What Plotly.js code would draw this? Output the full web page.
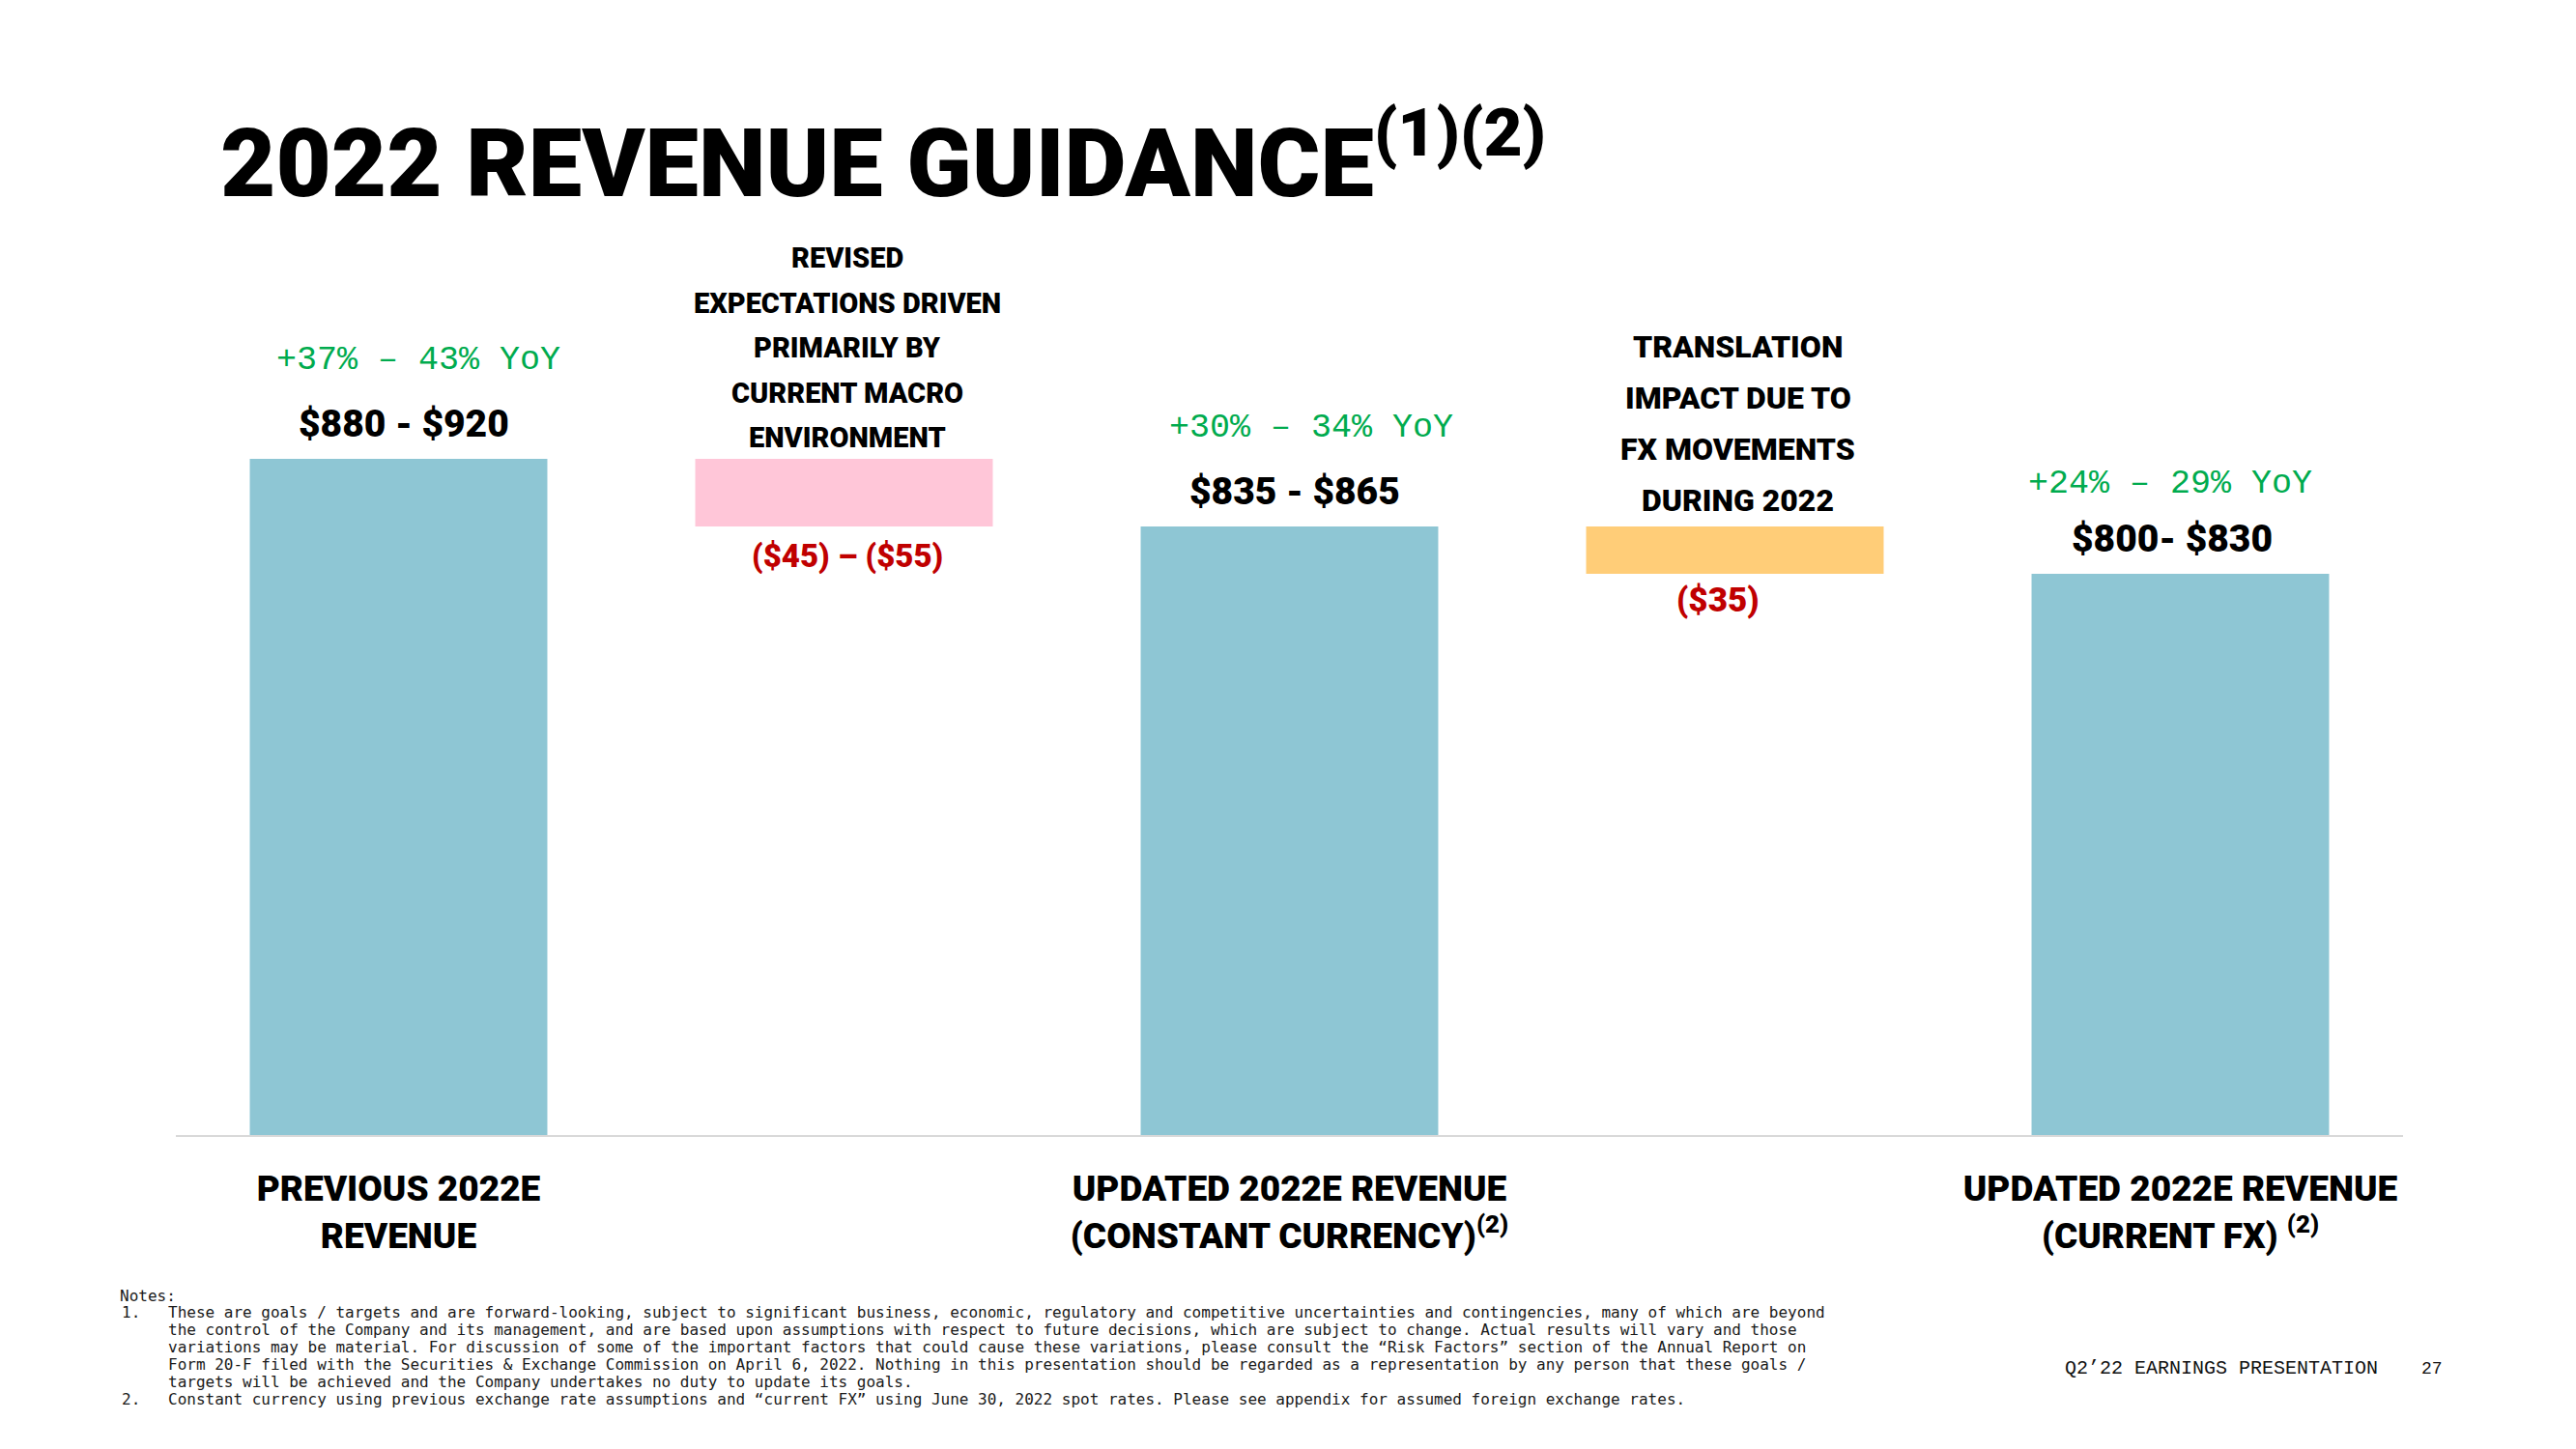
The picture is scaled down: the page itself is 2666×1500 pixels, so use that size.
<!DOCTYPE html>
<html>
<head>
<meta charset="utf-8">
<script src="https://cdn.plot.ly/plotly-3.0.1.min.js"></script>
<style>
html,body{margin:0;padding:0;background:#ffffff;}
#chart{width:2666px;height:1500px;}
</style>
</head>
<body>
<div id="chart"></div>
<script>
// ---------------- data ----------------
const categories = ['Previous 2022E', 'Macro', 'Updated CC', 'FX', 'Updated Current FX'];
const tickLabels = [
  'PREVIOUS 2022E<br>REVENUE',
  '',
  'UPDATED 2022E REVENUE<br>(CONSTANT CURRENCY)<sup>(2)</sup>',
  '',
  'UPDATED 2022E REVENUE<br>(CURRENT FX) <sup>(2)</sup>'
];
const barValues = [900, -50, 850, -35, 815];           // midpoints of guidance ranges ($M)
const barMeasures = ['total', 'relative', 'total', 'relative', 'total'];
const rangeLabels = ['$880 - $920', '($45) – ($55)', '$835 - $865', '($35)', '$800- $830'];
const yoyLabels = ['+37% – 43% YoY', '', '+30% – 34% YoY', '', '+24% – 29% YoY'];
const driverLabels = [
  '',
  'REVISED<br>EXPECTATIONS DRIVEN<br>PRIMARILY BY<br>CURRENT MACRO<br>ENVIRONMENT',
  '',
  'TRANSLATION<br>IMPACT DUE TO<br>FX MOVEMENTS<br>DURING 2022',
  ''
];
const noteLines = [
  ['', 'Notes:'],
  ['1.', 'These are goals / targets and are forward-looking, subject to significant business, economic, regulatory and competitive uncertainties and contingencies, many of which are beyond'],
  ['', 'the control of the Company and its management, and are based upon assumptions with respect to future decisions, which are subject to change. Actual results will vary and those'],
  ['', 'variations may be material. For discussion of some of the important factors that could cause these variations, please consult the “Risk Factors” section of the Annual Report on'],
  ['', 'Form 20-F filed with the Securities &amp; Exchange Commission on April 6, 2022. Nothing in this presentation should be regarded as a representation by any person that these goals /'],
  ['', 'targets will be achieved and the Company undertakes no duty to update its goals.'],
  ['2.', 'Constant currency using previous exchange rate assumptions and “current FX” using June 30, 2022 spot rates. Please see appendix for assumed foreign exchange rates.']
];
const titleText = '2022 REVENUE GUIDANCE<sup>(1)(2)</sup>';
const footerText = 'Q2’22 EARNINGS PRESENTATION';
const pageNumber = '27';

// ---------------- styles ----------------
const barColors = ['#8ec6d4', '#ffc6d8', '#8ec6d4', '#ffcd78', '#8ec6d4'];
const HEAVY = 'Roboto, DejaVu Sans, sans-serif';
const MONO = 'Liberation Mono, DejaVu Sans Mono, monospace';
const NOTEMONO = 'DejaVu Sans Mono, Liberation Mono, monospace';
const GREEN = '#00ab4e';
const RED = '#c00000';

const W = 2666, H = 1500;
const PL = 182, PR = 2487, PT = 55, PB = 1175;
const px2x = p => (p - PL) / (PR - PL);
const py2y = p => (PB - p) / (PB - PT);

// ---------------- waterfall geometry from data ----------------
const bases = [], heights = [];
let running = 0;
barValues.forEach((v, i) => {
  if (barMeasures[i] === 'total') { bases.push(0); heights.push(v); running = v; }
  else { bases.push(running); heights.push(v); running += v; }
});

const trace = {
  type: 'bar',
  x: categories,
  y: heights,
  base: bases,
  marker: { color: barColors, line: { width: 0 } },
  hoverinfo: 'skip',
  showlegend: false
};

const yoyShift = [102, 0, 102, 0, 93];
const yoyXShift = [20, 0, 22, 0, -11];
const driverStyle = { 1: { size: 29, pitch: 46.5, last: 22 }, 3: { size: 32, pitch: 53, last: 27 } };

const annotations = [];
categories.forEach((c, i) => {
  const top = barMeasures[i] === 'total' ? heights[i] : bases[i];
  const bottom = barMeasures[i] === 'total' ? 0 : bases[i] + heights[i];
  if (yoyLabels[i]) {
    annotations.push({
      x: c, y: top, xref: 'x', yref: 'y', text: yoyLabels[i], showarrow: false,
      yanchor: 'middle', yshift: yoyShift[i], xshift: yoyXShift[i],
      font: { family: MONO, size: 35, color: GREEN }
    });
  }
  if (barMeasures[i] === 'total') {
    annotations.push({
      x: c, y: top, xref: 'x', yref: 'y', text: rangeLabels[i], showarrow: false,
      yanchor: 'middle', yshift: 36, xshift: (i === 4 ? -9 : 5),
      font: { family: HEAVY, size: 39, color: '#000000', weight: 900 }
    });
  } else {
    annotations.push({
      x: c, y: bottom, xref: 'x', yref: 'y', text: rangeLabels[i], showarrow: false,
      yanchor: 'middle', yshift: (i === 3 ? -27 : -30), xshift: (i === 3 ? -18 : 3),
      font: { family: HEAVY, size: (i === 3 ? 35 : 33), color: RED, weight: 900 }
    });
  }
  if (driverLabels[i]) {
    const st = driverStyle[i];
    const lines = driverLabels[i].split('<br>');
    lines.forEach((ln, j) => {
      annotations.push({
        x: c, y: top, xref: 'x', yref: 'y', text: ln, showarrow: false,
        yanchor: 'middle', yshift: st.last + (lines.length - 1 - j) * st.pitch, xshift: 3,
        font: { family: HEAVY, size: st.size, color: '#000000', weight: 900 }
      });
    });
  }
});

// notes
const notePitch = 17.9;
noteLines.forEach((ln, k) => {
  const yc = 1341 + k * notePitch;
  if (ln[0]) {
    annotations.push({
      x: px2x(124), y: py2y(yc), xref: 'paper', yref: 'paper', xanchor: 'left', yanchor: 'middle',
      text: ln[0], showarrow: false, font: { family: NOTEMONO, size: 16, color: '#1a1a1a' }
    });
  }
  annotations.push({
    x: px2x(k === 0 ? 122 : 172), y: py2y(yc), xref: 'paper', yref: 'paper', xanchor: 'left', yanchor: 'middle',
    text: ln[1], showarrow: false, font: { family: NOTEMONO, size: 16, color: '#1a1a1a' }
  });
});

// footer
annotations.push({
  x: px2x(2135), y: py2y(1416), xref: 'paper', yref: 'paper', xanchor: 'left', yanchor: 'middle',
  text: footerText, showarrow: false, font: { family: MONO, size: 20, color: '#111111' }
});
annotations.push({
  x: px2x(2504), y: py2y(1417), xref: 'paper', yref: 'paper', xanchor: 'left', yanchor: 'middle',
  text: pageNumber, showarrow: false, font: { family: MONO, size: 18, color: '#111111' }
});

const tickIdx = tickLabels.map((t, i) => t ? i : -1).filter(i => i >= 0);

const layout = {
  width: W, height: H,
  paper_bgcolor: '#ffffff', plot_bgcolor: '#ffffff',
  margin: { l: PL, r: W - PR, t: PT, b: H - PB, pad: 0 },
  bargap: 0.332,
  title: {
    text: titleText,
    x: 228 / W, xref: 'container', xanchor: 'left',
    y: 1 - 168 / H, yref: 'container', yanchor: 'middle',
    font: { family: HEAVY, size: 99, color: '#000000', weight: 900 }
  },
  xaxis: {
    type: 'category',
    categoryorder: 'array', categoryarray: categories,
    tickmode: 'array', tickvals: tickIdx.map(i => categories[i]), ticktext: tickIdx.map(i => tickLabels[i]),
    showline: true, linecolor: '#d9d9d9', linewidth: 2,
    showgrid: false, zeroline: false, ticks: '',
    ticklabelstandoff: 22,
    tickfont: { family: HEAVY, size: 37, color: '#000000', weight: 900 },
    automargin: false, fixedrange: true
  },
  yaxis: {
    range: [400, 1200], visible: false, showgrid: false, zeroline: false,
    automargin: false, fixedrange: true
  },
  annotations: annotations,
  showlegend: false
};

Plotly.newPlot('chart', [trace], layout, { staticPlot: true, displayModeBar: false });
</script>
</body>
</html>
